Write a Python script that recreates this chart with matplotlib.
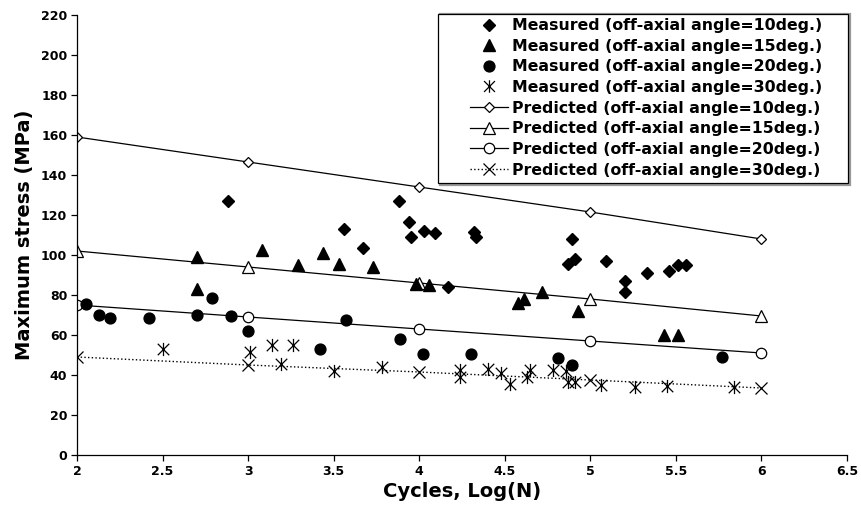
import matplotlib
matplotlib.use("Agg")
import matplotlib.pyplot as plt
from matplotlib.lines import Line2D
from matplotlib.patches import Rectangle
from matplotlib.path import Path

plt.rcParams["font.family"] = ["DejaVu Sans"]
plt.rcParams["font.weight"] = "bold"

# Measured data (log cycles, stress MPa)
m10_x = [2.88, 3.56, 3.67, 3.88, 3.94, 3.95, 4.03, 4.09, 4.17, 4.32, 4.33,
         4.89, 4.87, 4.91, 5.09, 5.20, 5.20, 5.33, 5.46, 5.51, 5.56]
m10_y = [127, 113, 103.5, 127, 116.5, 109, 112, 111, 84, 111.5, 109,
         108, 95.5, 98, 97, 87, 81.5, 91, 92, 95, 95]

m15_x = [2.70, 2.70, 3.08, 3.29, 3.44, 3.53, 3.73, 3.98, 4.06, 4.58, 4.61,
         4.72, 4.93, 5.43, 5.51]
m15_y = [99, 83, 102.5, 95, 101, 95.5, 94, 85.5, 85, 76, 78,
         81.5, 72, 60, 60]

m20_x = [2.05, 2.13, 2.19, 2.42, 2.70, 2.79, 2.90, 3.00, 3.42, 3.57, 3.89,
         4.02, 4.30, 4.81, 4.89, 5.77]
m20_y = [75.5, 70, 68.5, 68.5, 70, 78.5, 69.5, 62, 53, 67.5, 58,
         50.5, 50.5, 48.5, 45, 49]

m30_x = [2.50, 3.01, 3.14, 3.19, 3.26, 3.50, 3.78, 4.24, 4.24, 4.40, 4.48,
         4.53, 4.63, 4.65, 4.78, 4.86, 4.87, 4.91, 5.06, 5.26, 5.45, 5.84]
m30_y = [53, 51.5, 55, 45.5, 55, 42, 44, 42.5, 39, 43, 41,
         35.5, 39, 42.5, 42.5, 42, 36.5, 36.5, 35, 34, 34.5, 34]

# Predicted curves
p_x = [2, 3, 4, 5, 6]
p10_y = [159, 146.5, 134, 121.5, 108]
p15_y = [102, 94, 86, 78, 69.5]
p20_y = [75, 69, 63, 57, 51]
p30_y = [49, 45, 41.5, 37.5, 33.5]

labels = ["10", "15", "20", "30"]

# Excel-style asterisk: an X with a vertical bar through it
star = Path([(-1, -1), (1, 1), (-1, 1), (1, -1), (0, -1.15), (0, 1.15)],
            [Path.MOVETO, Path.LINETO, Path.MOVETO, Path.LINETO, Path.MOVETO, Path.LINETO])

W, H = 862, 520
fig = plt.figure(figsize=(W / 100, H / 100), dpi=100)
ax = fig.add_axes([77 / W, 65 / H, 770 / W, 440 / H])

ax.plot(p_x, p10_y, "-", color="k", lw=0.9, marker="D", ms=5.5, mfc="white", mec="k", mew=0.9)
ax.plot(p_x, p15_y, "-", color="k", lw=0.9, marker="^", ms=8, mfc="white", mec="k", mew=0.9)
ax.plot(p_x, p20_y, "-", color="k", lw=0.9, marker="o", ms=7.5, mfc="white", mec="k", mew=0.9)
ax.plot(p_x, p30_y, ":", color="k", lw=1.0, marker="x", ms=8, mec="k", mew=0.9)

ax.plot(m10_x, m10_y, "D", color="k", ms=6.3, ls="none")
ax.plot(m15_x, m15_y, "^", color="k", ms=8.5, ls="none")
ax.plot(m20_x, m20_y, "o", color="k", ms=7.8, ls="none")
ax.plot(m30_x, m30_y, marker=star, color="k", ms=9.5, mew=0.9, ls="none")

ax.set_xlim(2, 6.5)
ax.set_ylim(0, 220)
ax.set_xticks([2, 2.5, 3, 3.5, 4, 4.5, 5, 5.5, 6, 6.5])
ax.set_xticklabels(["2", "2.5", "3", "3.5", "4", "4.5", "5", "5.5", "6", "6.5"])
ax.set_yticks(range(0, 221, 20))
ax.tick_params(axis="both", direction="out", length=4, width=0.9, labelsize=9, pad=3)
for lab in ax.get_xticklabels() + ax.get_yticklabels():
    lab.set_fontweight("bold")
ax.spines["top"].set_visible(False)
ax.spines["right"].set_visible(False)
ax.spines["left"].set_linewidth(0.9)
ax.spines["bottom"].set_linewidth(0.9)

ax.set_xlabel("Cycles, Log(N)", fontsize=14, fontweight="bold", labelpad=3)
ax.set_ylabel("Maximum stress (MPa)", fontsize=14, fontweight="bold", labelpad=5)

handles = [
    Line2D([], [], ls="none", marker="D", color="k", ms=6.3),
    Line2D([], [], ls="none", marker="^", color="k", ms=8.5),
    Line2D([], [], ls="none", marker="o", color="k", ms=7.8),
    Line2D([], [], ls="none", marker=star, color="k", ms=9, mew=0.9),
    Line2D([], [], ls="-", color="k", lw=0.9, marker="D", ms=5.5, mfc="white", mew=0.9),
    Line2D([], [], ls="-", color="k", lw=0.9, marker="^", ms=8, mfc="white", mew=0.9),
    Line2D([], [], ls="-", color="k", lw=0.9, marker="o", ms=7.5, mfc="white", mew=0.9),
    Line2D([], [], ls=":", color="k", lw=1.0, marker="x", ms=8, mew=0.9),
]
texts = [f"Measured (off-axial angle={a}deg.)" for a in labels] + \
        [f"Predicted (off-axial angle={a}deg.)" for a in labels]
leg = fig.legend(handles, texts, loc="upper left", bbox_to_anchor=(470 / W, 1 - 18 / H),
                 borderaxespad=0, frameon=False,
                 handlelength=2.4, handletextpad=0.3, labelspacing=0.36,
                 borderpad=0, prop={"weight": "bold", "size": 11.3})

# Excel-style legend box, with a faint shadow on the right/bottom
fig.patches.append(Rectangle((440 / W, 1 - 185 / H), 410 / W, 171 / H,
                             transform=fig.transFigure, fill=False,
                             edgecolor="#999999", lw=1.6, zorder=4))
fig.patches.append(Rectangle((438 / W, 1 - 183 / H), 410 / W, 169 / H,
                             transform=fig.transFigure, facecolor="white",
                             edgecolor="k", lw=0.9, zorder=5))
leg.set_zorder(6)

fig.savefig("out.png", dpi=100)
